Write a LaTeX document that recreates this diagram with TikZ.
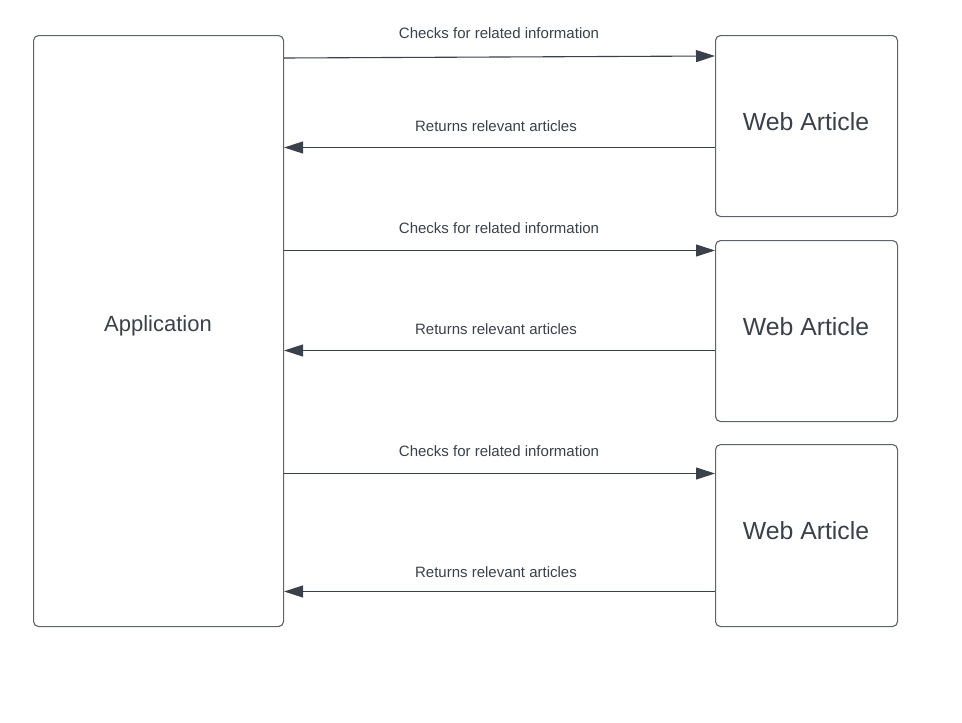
\documentclass[tikz,border=0pt]{standalone}
\usepackage{fontspec}
\setmainfont{Liberation Sans}
\usetikzlibrary{arrows.meta}
\definecolor{ink}{HTML}{3A414A}
\definecolor{edge}{HTML}{5F646B}
\tikzset{
  box/.style={draw=edge, line width=1.1pt, rounded corners=5pt, anchor=north west, inner sep=0pt},
  arr/.style={draw=ink, line width=1.1pt, -{Triangle[length=19pt,width=12pt]}},
  lbl/.style={text=ink, anchor=base, inner sep=0pt, font=\fontsize{15}{18}\selectfont},
  big/.style={text=ink, anchor=base, inner sep=0pt},
}
\begin{document}
\begin{tikzpicture}[x=1pt,y=-1pt]
\useasboundingbox[fill=white] (0,0) rectangle (962,723);
\node[box, minimum width=250pt, minimum height=591pt] (app) at (33,35) {};
\node[box, minimum width=182pt, minimum height=181pt] (w1) at (715,35) {};
\node[box, minimum width=182pt, minimum height=181pt] (w2) at (715,240) {};
\node[box, minimum width=182pt, minimum height=182pt] (w3) at (715,444) {};

\node[big, font=\fontsize{22}{26}\selectfont] (tapp) at (158,331) {Application};
\node[big, font=\fontsize{24.8}{29}\selectfont] (tw1) at (806,130) {Web Article};
\node[big, font=\fontsize{24.8}{29}\selectfont] (tw2) at (806,335) {Web Article};
\node[big, font=\fontsize{24.8}{29}\selectfont] (tw3) at (806,539) {Web Article};

\draw[arr] (app.east |- 0,58) -- (w1.west |- 0,56);
\draw[arr] (w1.west |- 0,147.5) -- (app.east |- 0,147.5);
\draw[arr] (app.east |- 0,250.5) -- (w2.west |- 0,250.5);
\draw[arr] (w2.west |- 0,350.5) -- (app.east |- 0,350.5);
\draw[arr] (app.east |- 0,473.5) -- (w3.west |- 0,473.5);
\draw[arr] (w3.west |- 0,591.5) -- (app.east |- 0,591.5);

\node[lbl] (c1) at (499,38) {Checks for related information};
\node[lbl] (r1) at (496,131) {Returns relevant articles};
\node[lbl] (c2) at (499,233) {Checks for related information};
\node[lbl] (r2) at (496,334) {Returns relevant articles};
\node[lbl] (c3) at (499,456) {Checks for related information};
\node[lbl] (r3) at (496,577) {Returns relevant articles};
\end{tikzpicture}
\end{document}
